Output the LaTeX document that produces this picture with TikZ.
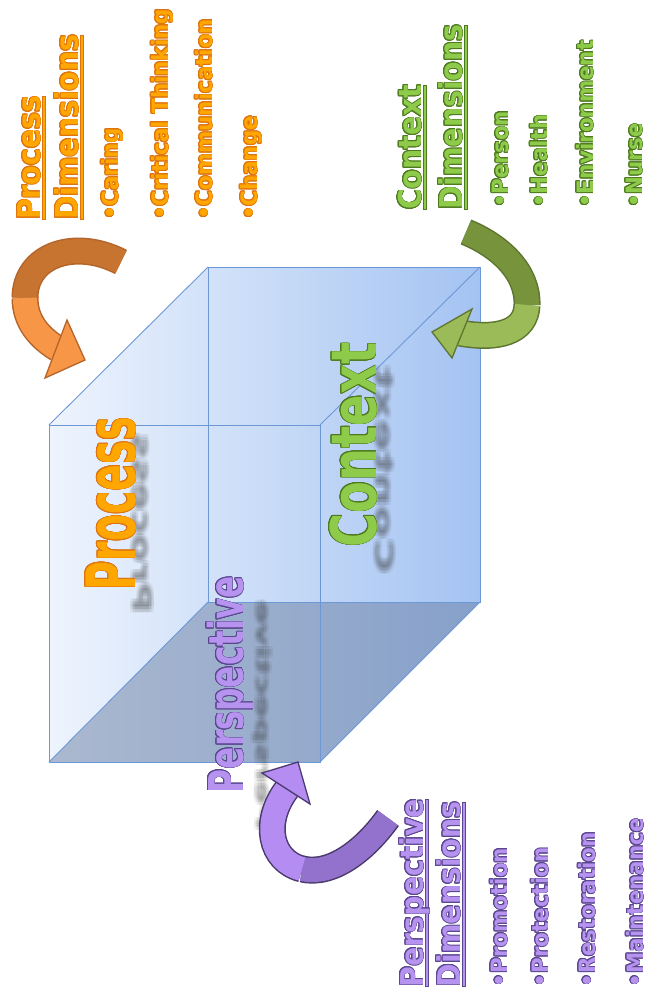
\documentclass[tikz,border=0pt]{standalone}
\usepackage{fontspec}
\setmainfont{DejaVu Sans}
\usepackage{graphicx}
\usepackage{contour}
\contourlength{0.9pt}
\definecolor{procfill}{HTML}{FFA600}
\definecolor{procline}{HTML}{DE7410}
\definecolor{ctxfill}{HTML}{8FCB4A}
\definecolor{ctxline}{HTML}{4E7A1F}
\definecolor{perfill}{HTML}{B693EE}
\definecolor{perline}{HTML}{5B4690}
\definecolor{cubeedge}{HTML}{6C98D6}
\definecolor{cubeL}{HTML}{EEF4FD}
\definecolor{cubeR}{HTML}{A4C3F2}
\definecolor{cubebot}{HTML}{6A7FA3}
\definecolor{orDark}{HTML}{C77430}
\definecolor{orLight}{HTML}{F79646}
\definecolor{orLine}{HTML}{B5652A}
\definecolor{grDark}{HTML}{77933C}
\definecolor{grLight}{HTML}{9BBB59}
\definecolor{grLine}{HTML}{5E7530}
\definecolor{puDark}{HTML}{9272CC}
\definecolor{puLight}{HTML}{B48CF2}
\definecolor{puLine}{HTML}{4B3A6E}
\newsavebox\ulbox
\newcommand{\otext}[3]{{\color{#2}\contour{#1}{#3}}}
\newcommand{\ultext}[3]{\sbox\ulbox{\otext{#1}{#2}{#3}}\rlap{\color{#1}\rule[-0.18em]{\wd\ulbox}{0.11em}}\rlap{\hspace{0.03em}\color{#2}\rule[-0.165em]{\dimexpr\wd\ulbox-0.06em\relax}{0.08em}}\usebox\ulbox}
\tikzset{
  rtxt/.style={rotate=90, anchor=base west, inner sep=0pt, outer sep=0pt},
  headtxt/.style={rtxt, font=\bfseries\fontsize{31.5}{31.5}\selectfont},
  itemtxt/.style={rtxt, font=\bfseries\fontsize{22.5}{22.5}\selectfont},
  shadowtxt/.style={rtxt, text=black!75, text opacity=0.055},
  edgeline/.style={draw=cubeedge, line width=0.9pt},
  bandout/.style={line width=27pt, line cap=butt},
  bandin/.style={line width=24pt, line cap=butt},
  headtri/.style={line width=1.3pt, line join=miter}
}
\begin{document}
\begin{tikzpicture}[x=1pt,y=-1pt]
\useasboundingbox (0,0) rectangle (645,992);
\fill[white] (0,0) rectangle (645,992);
% cube corners
\coordinate (F1) at (49,425);
\coordinate (F2) at (320,425);
\coordinate (F3) at (320,762);
\coordinate (F4) at (49,762);
\coordinate (B1) at (208,267);
\coordinate (B2) at (480,267);
\coordinate (B3) at (480,602);
\coordinate (B4) at (208,602);
\shade[left color=cubeL, right color=cubeR] (F1) -- (B1) -- (B2) -- (B3) -- (F3) -- (F4) -- cycle;
\fill[cubebot, opacity=0.5] (F4) -- (F3) -- (B3) -- (B4) -- cycle;
\draw[edgeline] (B1) -- (B2) -- (B3) -- (B4) -- cycle;
\draw[edgeline] (F1) -- (F2) -- (F3) -- (F4) -- cycle;
\draw[edgeline] (F1) -- (B1) (F2) -- (B2) (F3) -- (B3) (F4) -- (B4);

% blurred reflections of the big words
\foreach \dx in {-2.5,-1,0.5,2}{
 \foreach \dy in {-3,0,3}{
  \node[shadowtxt, font=\bfseries\fontsize{68}{68}\selectfont] (procsh) at (133+\dx,613+\dy) {\scalebox{0.6}[-0.38]{Process}};
  \node[shadowtxt, font=\bfseries\fontsize{63}{63}\selectfont] (ctxsh) at (376+\dx,573+\dy) {\scalebox{0.74}[-0.38]{Context}};
  \node[shadowtxt, font=\bfseries\fontsize{48}{48}\selectfont] (persh) at (257+\dx,830+\dy) {\scalebox{0.72}[-0.38]{Perspective}};
 }
}

% big words
\node[rtxt, font=\bfseries\fontsize{68}{68}\selectfont] (proc) at (135,590) {\scalebox{0.58}[1]{\otext{procline}{procfill}{Process}}};
\node[rtxt, font=\bfseries\fontsize{63}{63}\selectfont] (ctx) at (376,547) {\scalebox{0.735}[1]{\otext{ctxline}{ctxfill}{Context}}};
\node[rtxt, font=\bfseries\fontsize{48}{48}\selectfont] (per) at (243,793) {\scalebox{0.68}[1]{\otext{perline}{perfill}{Perspective}}};

% orange arrow
\coordinate (oa) at (121,262);
\coordinate (ob) at (25,298);
\coordinate (oc) at (58,349);
\draw[bandout, orLine] (oa) .. controls (75,238) and (25,255) .. (ob);
\draw[bandout, orLine] (ob) .. controls (25,322) and (40,338) .. (oc);
\draw[bandin, orDark] (oa) .. controls (75,238) and (25,255) .. (ob);
\draw[bandin, orLight] (ob) .. controls (25,322) and (40,338) .. (oc);
\filldraw[headtri, fill=orLight, draw=orLine] (67,320) -- (85,360) -- (45,378) -- cycle;

% green arrow
\coordinate (ga) at (466,232);
\coordinate (gb) at (527,305);
\coordinate (gc) at (460,333);
\draw[bandout, grLine] (ga) .. controls (500,246) and (528,272) .. (gb);
\draw[bandout, grLine] (gb) .. controls (526,332) and (498,340) .. (gc);
\draw[bandin, grDark] (ga) .. controls (500,246) and (528,272) .. (gb);
\draw[bandin, grLight] (gb) .. controls (526,332) and (498,340) .. (gc);
\filldraw[headtri, fill=grLight, draw=grLine] (472,309) -- (432,332) -- (452,358) -- cycle;

% purple arrow
\coordinate (pa) at (388,818);
\coordinate (pb) at (302,869);
\coordinate (pc) at (287,789);
\draw[bandout, puLine] (pa) .. controls (365,850) and (332,876) .. (pb);
\draw[bandout, puLine] (pb) .. controls (270,861) and (262,822) .. (pc);
\draw[bandin, puDark] (pa) .. controls (365,850) and (332,876) .. (pb);
\draw[bandin, puLight] (pb) .. controls (270,861) and (262,822) .. (pc);
\filldraw[headtri, fill=puLight, draw=puLine] (262,773) -- (298,762) -- (310,804) -- cycle;

% Process dimensions
\node[headtxt] (ph1) at (40,220) {\scalebox{0.9}[1]{\ultext{procline}{procfill}{Process}}};
\node[headtxt] (ph2) at (78,220) {\scalebox{0.9}[1]{\ultext{procline}{procfill}{Dimensions}}};
\node[itemtxt] (pi1) at (118,220) {\scalebox{0.95}[1]{\otext{procline}{procfill}{•Caring}}};
\node[itemtxt] (pi2) at (168,220) {\scalebox{0.95}[1]{\otext{procline}{procfill}{•Critical Thinking}}};
\node[itemtxt] (pi3) at (212,220) {\scalebox{0.95}[1]{\otext{procline}{procfill}{•Communication}}};
\node[itemtxt] (pi4) at (257,220) {\scalebox{0.95}[1]{\otext{procline}{procfill}{•Change}}};

% Context dimensions
\node[headtxt] (ch1) at (421,210) {\scalebox{0.9}[1]{\ultext{ctxline}{ctxfill}{Context}}};
\node[headtxt] (ch2) at (462,210) {\scalebox{0.9}[1]{\ultext{ctxline}{ctxfill}{Dimensions}}};
\node[itemtxt] (ci1) at (508,208) {\scalebox{0.95}[1]{\otext{ctxline}{ctxfill}{•Person}}};
\node[itemtxt] (ci2) at (547,208) {\scalebox{0.95}[1]{\otext{ctxline}{ctxfill}{•Health}}};
\node[itemtxt] (ci3) at (593,208) {\scalebox{0.95}[1]{\otext{ctxline}{ctxfill}{•Environment}}};
\node[itemtxt] (ci4) at (642,208) {\scalebox{0.95}[1]{\otext{ctxline}{ctxfill}{•Nurse}}};

% Perspective dimensions
\node[headtxt] (eh1) at (423,987) {\scalebox{0.9}[1]{\ultext{perline}{perfill}{Perspective}}};
\node[headtxt] (eh2) at (460,987) {\scalebox{0.9}[1]{\ultext{perline}{perfill}{Dimensions}}};
\node[itemtxt] (ei1) at (507,987) {\scalebox{0.95}[1]{\otext{perline}{perfill}{•Promotion}}};
\node[itemtxt] (ei2) at (548,987) {\scalebox{0.95}[1]{\otext{perline}{perfill}{•Protection}}};
\node[itemtxt] (ei3) at (595,987) {\scalebox{0.95}[1]{\otext{perline}{perfill}{•Restoration}}};
\node[itemtxt] (ei4) at (643,987) {\scalebox{0.95}[1]{\otext{perline}{perfill}{•Maintenance}}};
\end{tikzpicture}
\end{document}
